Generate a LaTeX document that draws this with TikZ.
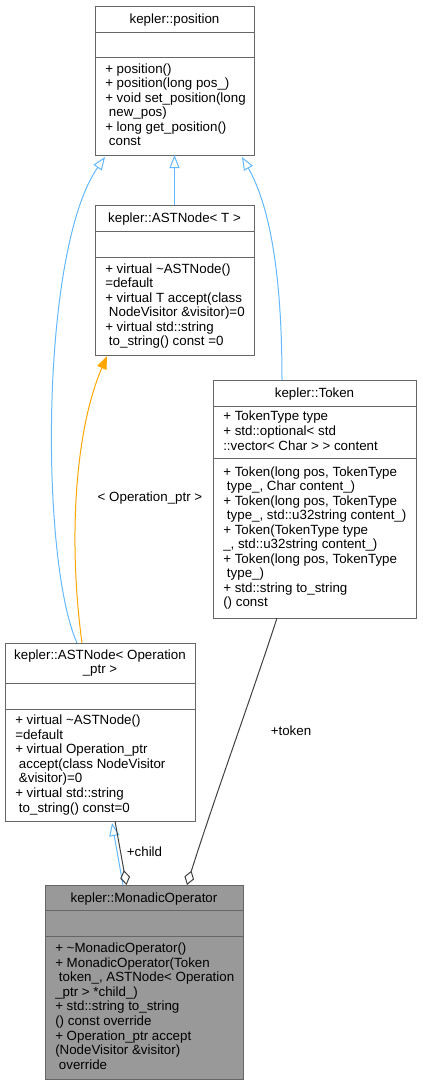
\documentclass[tikz,border=0pt]{standalone}
\usepackage{fontspec}
\setmainfont{Liberation Sans}
\usepackage{tikz}
\usetikzlibrary{calc, positioning, arrows.meta, fit}
\usepackage{xcolor}
\definecolor{boxgray}{RGB}{102, 102, 102}
\definecolor{mainfill}{RGB}{153, 153, 153}
\definecolor{inhblue}{RGB}{99, 184, 255}
\definecolor{useedge}{RGB}{64, 64, 64}
\definecolor{tmplorange}{RGB}{255, 165, 0}
\newcommand{\lstrut}{\rule[-2.05pt]{0pt}{10.9pt}}
\newcommand{\ind}{\hspace*{0.278em}}

\begin{document}
\begin{tikzpicture}[x=0.75pt, y=-0.75pt, font=\fontsize{10}{10.9}\selectfont,
    classbox/.style={draw=boxgray, line width=0.75pt, fill=white, inner sep=0pt, outer sep=0pt},
    sepline/.style={draw=boxgray, line width=0.75pt},
    members/.style={anchor=west, align=left, inner sep=0pt,
      execute at begin node=\lstrut, execute at end node=\lstrut},
    classname/.style={anchor=center, align=center, inner sep=0pt,
      execute at begin node=\lstrut, execute at end node=\lstrut},
    inherit/.style={draw=inhblue, line width=0.75pt, -{Triangle[open, length=9.75pt, width=7.5pt]}},
    instance/.style={draw=tmplorange, line width=0.75pt, -{Triangle[length=9.75pt, width=7.5pt]}},
    uses/.style={draw=useedge, line width=0.75pt, -{Diamond[open, length=11.25pt, width=7.5pt]}},
    edgelabel/.style={inner sep=0pt}]
  \useasboundingbox (0, 0) rectangle (422, 1085);

  % kepler::position
  \node[classbox, fit={(95, 6) (254, 155)}] (pos) {};
  \draw[sepline] (95, 32) -- (254, 32);
  \draw[sepline] (95, 57) -- (254, 57);
  \node[classname] (posName) at (174.5, 19) {kepler::position};
  \node[members] (posOps) at (105, 106) {+ position()\\+ position(long pos\_)\\+ void set\_position(long\\\ind new\_pos)\\+ long get\_position()\\\ind const};

  % kepler::ASTNode< T >
  \node[classbox, fit={(95, 205) (254, 355)}] (astT) {};
  \draw[sepline] (95, 231) -- (254, 231);
  \draw[sepline] (95, 257) -- (254, 257);
  \node[classname] (astTName) at (174.5, 218) {kepler::ASTNode< T >};
  \node[members] (astTOps) at (105, 306) {+ virtual \textasciitilde ASTNode()\\=default\\+ virtual T accept(class\\\ind NodeVisitor \&visitor)=0\\+ virtual std::string\\\ind to\_string() const =0};

  % kepler::Token
  \node[classbox, fit={(213, 380) (416, 618)}] (token) {};
  \draw[sepline] (213, 406) -- (416, 406);
  \draw[sepline] (213, 458) -- (416, 458);
  \node[classname] (tokenName) at (314.5, 393) {kepler::Token};
  \node[members] (tokenAttrs) at (223, 432) {+ TokenType type\\+ std::optional< std\\::vector< Char > > content};
  \node[members] (tokenOps) at (223, 538) {+ Token(long pos, TokenType\\\ind type\_, Char content\_)\\+ Token(long pos, TokenType\\\ind type\_, std::u32string content\_)\\+ Token(TokenType type\\\_, std::u32string content\_)\\+ Token(long pos, TokenType\\\ind type\_)\\+ std::string to\_string\\() const};

  % kepler::ASTNode< Operation_ptr >
  \node[classbox, fit={(5, 643) (195, 821)}] (astOp) {};
  \draw[sepline] (5, 683) -- (195, 683);
  \draw[sepline] (5, 709) -- (195, 709);
  \node[classname] (astOpName) at (100, 663) {kepler::ASTNode< Operation\\\_ptr >};
  \node[members] (astOpOps) at (15, 765) {+ virtual \textasciitilde ASTNode()\\=default\\+ virtual Operation\_ptr\\\ind accept(class NodeVisitor\\\ind \&visitor)=0\\+ virtual std::string\\\ind to\_string() const=0};

  % kepler::MonadicOperator
  \node[classbox, fill=mainfill, fit={(45, 885) (243, 1079)}] (monop) {};
  \draw[sepline] (45, 910) -- (243, 910);
  \draw[sepline] (45, 936) -- (243, 936);
  \node[classname] (monopName) at (144, 897.5) {kepler::MonadicOperator};
  \node[members] (monopOps) at (55, 1007.5) {+ \textasciitilde MonadicOperator()\\+ MonadicOperator(Token\\\ind token\_, ASTNode< Operation\\\_ptr > *child\_)\\+ std::string to\_string\\() const override\\+ Operation\_ptr accept\\(NodeVisitor \&visitor)\\\ind override};

  % inheritance
  \draw[inherit] (astT.north) -- (pos.south);
  \draw[inherit] ($(token.north west)+(69, 0)$) .. controls (282, 300) and (275, 215) .. ($(pos.south east)+(-12, 2)$);
  \draw[inherit] ($(astOp.north west)+(72, 0)$) .. controls (40, 560) and (40, 250) .. ($(pos.south west)+(10, 2)$);
  \draw[inherit] ($(monop.north west)+(78, 0)$) -- ($(astOp.south west)+(107, 2)$);

  % template instance
  \draw[instance] ($(astOp.north west)+(77, 0)$) .. controls (68, 540) and (75, 430) .. ($(astT.south west)+(12, 1)$);
  \node[edgelabel] (tplLabel) at (150, 498) {< Operation\_ptr >};

  % members
  \draw[uses] ($(astOp.south west)+(110, 0)$) -- ($(monop.north west)+(81.5, 0)$);
  \node[edgelabel] (childLabel) at (144.5, 852) {+child};
  \draw[uses] ($(token.south west)+(64, 0)$) .. controls (252, 695) and (212, 805) .. ($(monop.north west)+(142, 0)$);
  \node[edgelabel] (tokenLabel) at (291, 731) {+token};
\end{tikzpicture}
\end{document}
